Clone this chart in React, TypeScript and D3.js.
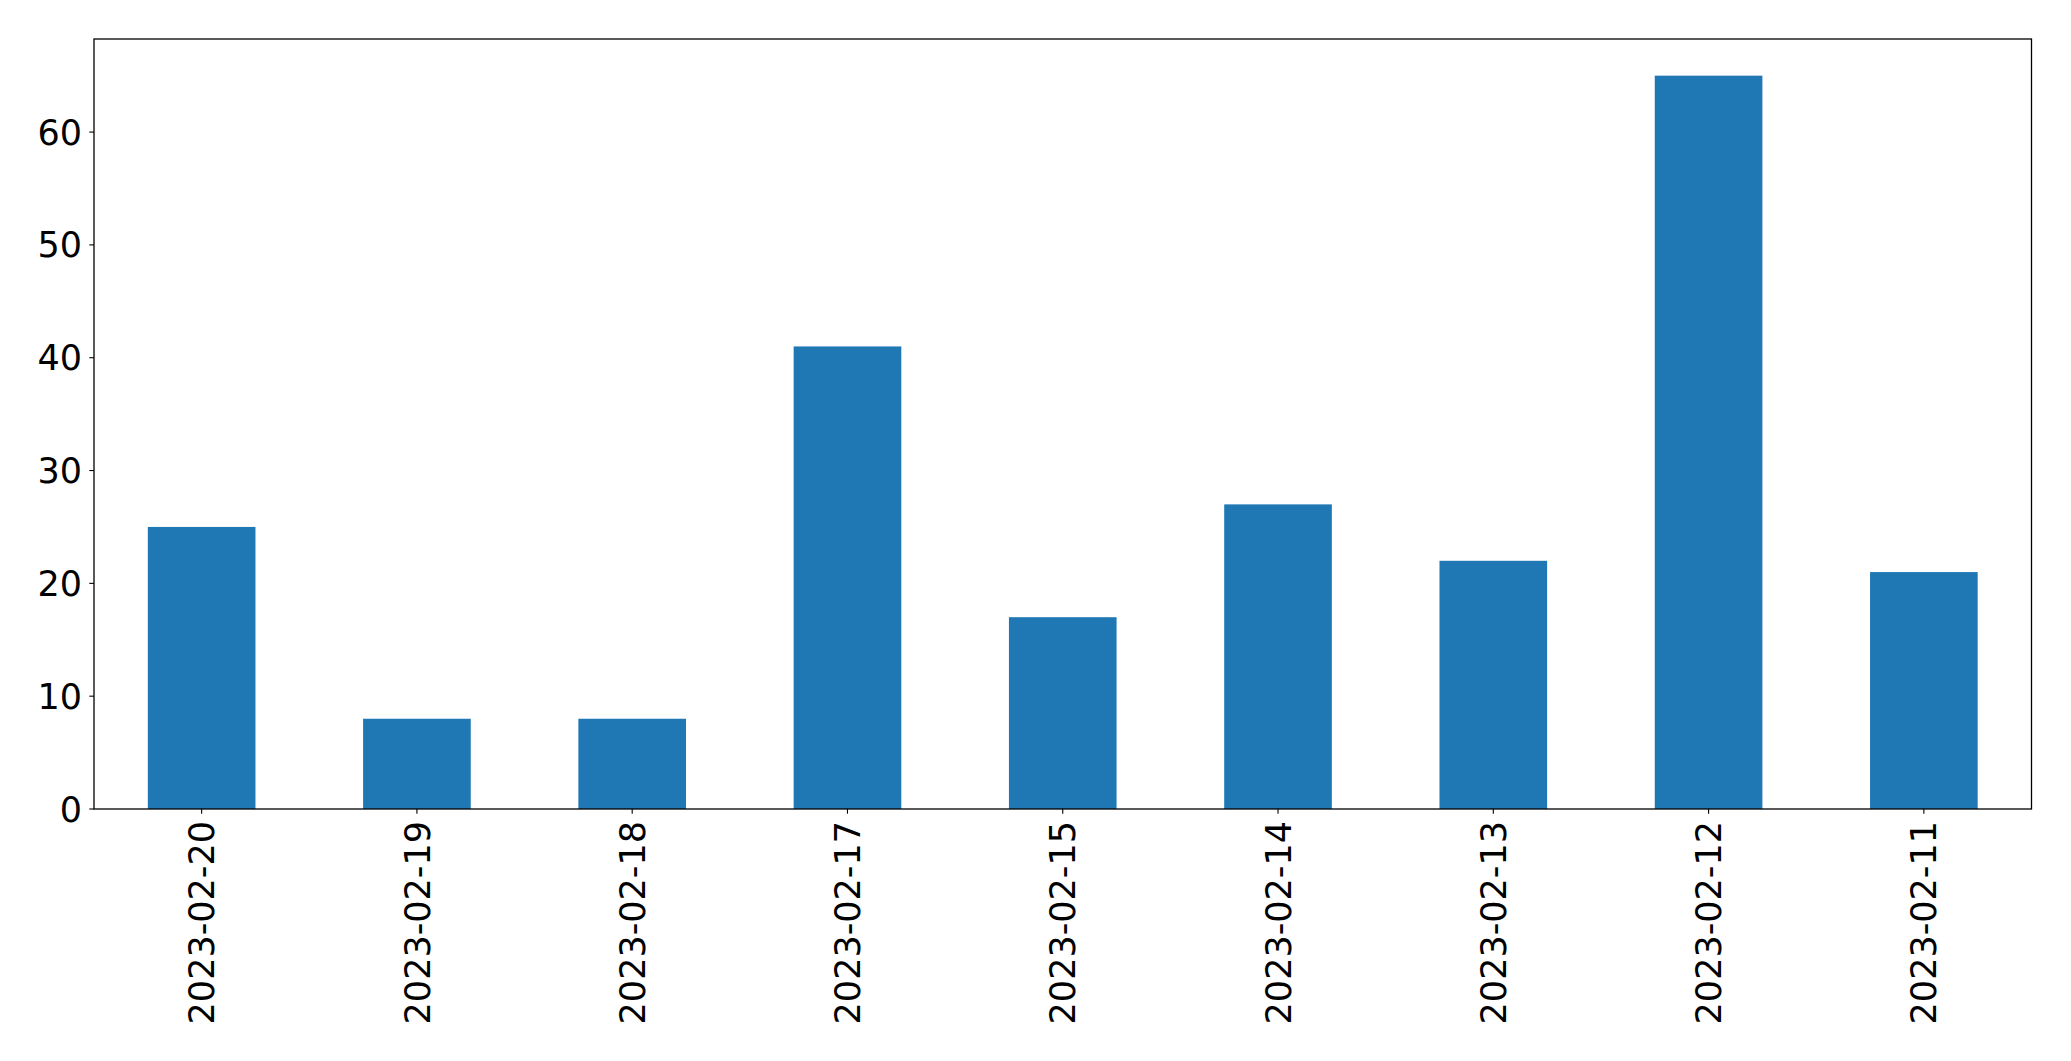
import React from "react";
import * as d3 from "d3";

const categories = ["2023-02-20","2023-02-19","2023-02-18","2023-02-17","2023-02-15","2023-02-14","2023-02-13","2023-02-12","2023-02-11"];
const values = [25, 8, 8, 41, 17, 27, 22, 65, 21];
const yTicks = [0, 10, 20, 30, 40, 50, 60];

const W = 2071, H = 1061;
const M = { left: 94, right: 2031.5, top: 39, bottom: 809 };
const FONT = "DejaVu Sans, sans-serif";
const FS = 35;

export default function App() {
  const x = d3.scaleLinear().domain([-0.5, categories.length - 0.5]).range([M.left, M.right]);
  const y = d3.scaleLinear().domain([0, d3.max(values)! * 1.05]).range([M.bottom, M.top]);
  const bw = x(0.25) - x(-0.25);
  return (
    <svg width={W} height={H} style={{ position: "absolute", left: 0, top: 0, background: "#fff" }}>
      <rect x={0} y={0} width={W} height={H} fill="#fff" />
      {values.map((v, i) => (
        <rect key={i} x={x(i) - bw / 2} y={y(v)} width={bw} height={y(0) - y(v)} fill="#1f77b4" />
      ))}
      <rect x={M.left} y={M.top} width={M.right - M.left} height={M.bottom - M.top} fill="none" stroke="#000" strokeWidth={1.3} />
      {yTicks.map((t) => (
        <g key={t}>
          <line x1={M.left - 4.7} x2={M.left} y1={y(t)} y2={y(t)} stroke="#000" strokeWidth={1.1} />
          <text x={M.left - 12} y={y(t)} dy="0.36em" textAnchor="end" fontFamily={FONT} fontSize={FS} fill="#000">{t}</text>
        </g>
      ))}
      {categories.map((c, i) => (
        <g key={c}>
          <line x1={x(i)} x2={x(i)} y1={M.bottom} y2={M.bottom + 4.7} stroke="#000" strokeWidth={1.1} />
          <text transform={`translate(${x(i)},${M.bottom + 12}) rotate(-90)`} dy="0.36em" textAnchor="end" fontFamily={FONT} fontSize={FS} fill="#000">{c}</text>
        </g>
      ))}
    </svg>
  );
}
